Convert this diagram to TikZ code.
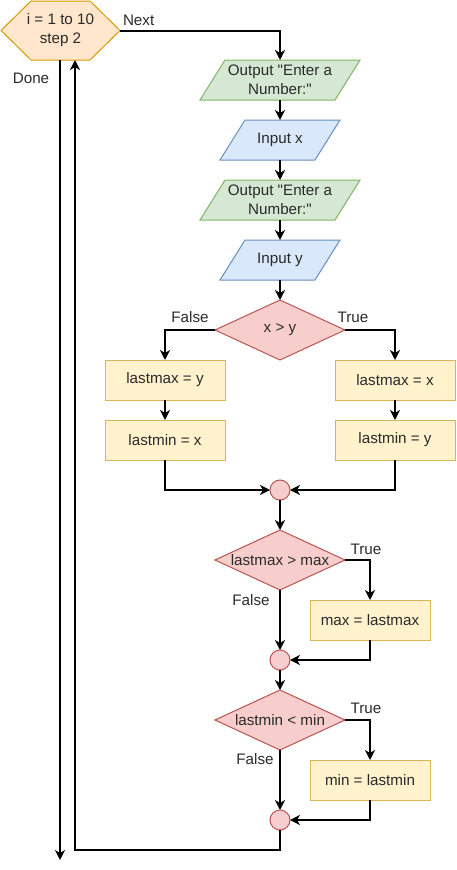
\documentclass[tikz,border=0pt]{standalone}
\usepackage{fontspec}
\setmainfont{Liberation Sans}
\newfontfamily\plainfont{Liberation Sans}
\usetikzlibrary{arrows.meta,calc}
\pgfdeclarelayer{bg}
\pgfsetlayers{bg,main}
\definecolor{hexfill}{HTML}{FFE6CC}
\definecolor{hexdraw}{HTML}{D79B00}
\definecolor{gfill}{HTML}{D5E8D4}
\definecolor{gdraw}{HTML}{82B366}
\definecolor{bfill}{HTML}{DAE8FC}
\definecolor{bdraw}{HTML}{6C8EBF}
\definecolor{yfill}{HTML}{FFF2CC}
\definecolor{ydraw}{HTML}{D6B656}
\definecolor{rfill}{HTML}{F8CECC}
\definecolor{rdraw}{HTML}{B85450}
\definecolor{txt}{HTML}{2A2A2A}
\newcommand{\dq}{\char34\relax}
\begin{document}
\begin{tikzpicture}[x=1pt,y=-1pt,
  every node/.style={font=\plainfont\fontsize{15.2}{19}\selectfont, text=txt, align=center, inner sep=0pt, outer sep=0pt},
  procbox/.style={minimum width=120pt, minimum height=40pt, draw=ydraw, fill=yfill, line width=1pt},
  iobox/.style={minimum width=#1, minimum height=40pt},
  junc/.style={circle, minimum size=20pt, draw=rdraw, fill=rfill, line width=1pt},
  decbox/.style={minimum width=130pt, minimum height=60pt},
  gshape/.style={draw=gdraw, fill=gfill, line width=1pt},
  bshape/.style={draw=bdraw, fill=bfill, line width=1pt},
  rshape/.style={draw=rdraw, fill=rfill, line width=1pt},
  hshape/.style={draw=hexdraw, fill=hexfill, line width=1pt},
  arr/.style={draw=black, line width=2pt, -{Stealth[length=10pt,width=10pt,inset=3pt]}},
  lbl/.style={font=\plainfont\fontsize{15.2}{19}\selectfont}
]
\useasboundingbox (0,0) rectangle (456,870);

% nodes
\node[minimum width=119pt, minimum height=59pt] (hex) at (60.5,30.5) {i = 1 to 10\\step 2};
\node[iobox=160pt] (o1) at (280,80) {Output \dq Enter a\\Number:\dq};
\node[iobox=120pt] (ix) at (280,140) {Input x};
\node[iobox=160pt] (o2) at (280,200) {Output \dq Enter a\\Number:\dq};
\node[iobox=120pt] (iy) at (280,260) {Input y};
\node[decbox] (d1) at (280,330) {x > y};
\node[procbox] (lmaxF) at (165,380) {lastmax = y};
\node[procbox] (lminF) at (165,440) {lastmin = x};
\node[procbox] (lmaxT) at (395,380) {lastmax = x};
\node[procbox] (lminT) at (395,440) {lastmin = y};
\node[junc] (c1) at (280,490) {};
\node[decbox] (d2) at (280,560) {lastmax > max};
\node[procbox] (mx) at (370,620) {max = lastmax};
\node[junc] (c2) at (280,660) {};
\node[decbox] (d3) at (280,720) {lastmin < min};
\node[procbox] (mn) at (370,780) {min = lastmin};
\node[junc] (c3) at (280,820) {};

% shapes behind text
\begin{pgfonlayer}{bg}
\draw[hshape] (hex.west) -- ([xshift=30pt]hex.north west) -- ([xshift=-30pt]hex.north east) -- (hex.east) -- ([xshift=-30pt]hex.south east) -- ([xshift=30pt]hex.south west) -- cycle;
\draw[gshape] ([xshift=25pt]o1.north west) -- (o1.north east) -- ([xshift=-25pt]o1.south east) -- (o1.south west) -- cycle;
\draw[bshape] ([xshift=25pt]ix.north west) -- (ix.north east) -- ([xshift=-25pt]ix.south east) -- (ix.south west) -- cycle;
\draw[gshape] ([xshift=25pt]o2.north west) -- (o2.north east) -- ([xshift=-25pt]o2.south east) -- (o2.south west) -- cycle;
\draw[bshape] ([xshift=25pt]iy.north west) -- (iy.north east) -- ([xshift=-25pt]iy.south east) -- (iy.south west) -- cycle;
\draw[rshape] (d1.north) -- (d1.east) -- (d1.south) -- (d1.west) -- cycle;
\draw[rshape] (d2.north) -- (d2.east) -- (d2.south) -- (d2.west) -- cycle;
\draw[rshape] (d3.north) -- (d3.east) -- (d3.south) -- (d3.west) -- cycle;
\end{pgfonlayer}

% coordinates
\coordinate (doneend) at (60,860);
\coordinate (retb) at (75,850);

% connectors
\draw[arr] (hex.east) -| (o1.north);
\draw[arr] (o1.south) -- (ix.north);
\draw[arr] (ix.south) -- (o2.north);
\draw[arr] (o2.south) -- (iy.north);
\draw[arr] (iy.south) -- (d1.north);
\draw[arr] (d1.west) -| (lmaxF.north);
\draw[arr] (d1.east) -| (lmaxT.north);
\draw[arr] (lmaxF.south) -- (lminF.north);
\draw[arr] (lmaxT.south) -- (lminT.north);
\draw[arr] (lminF.south) |- (c1.west);
\draw[arr] (lminT.south) |- (c1.east);
\draw[arr] (c1.south) -- (d2.north);
\draw[arr] (d2.east) -| (mx.north);
\draw[arr] (d2.south) -- (c2.north);
\draw[arr] (mx.south) |- (c2.east);
\draw[arr] (c2.south) -- (d3.north);
\draw[arr] (d3.east) -| (mn.north);
\draw[arr] (d3.south) -- (c3.north);
\draw[arr] (mn.south) |- (c3.east);
\draw[arr] (c3.south) |- (retb) -- (retb |- hex.south);
\draw[arr] (hex.south -| doneend) -- (doneend);

% labels
\node[lbl, anchor=west] (lnext) at (123,20) {Next};
\node[lbl] (ldone) at (31,78) {Done};
\node[lbl] (lf1) at (190,317) {False};
\node[lbl] (lt1) at (353,317) {True};
\node[lbl] (lt2) at (366,549) {True};
\node[lbl] (lf2) at (251,600) {False};
\node[lbl] (lt3) at (366,708) {True};
\node[lbl] (lf3) at (255,759) {False};
\end{tikzpicture}
\end{document}
